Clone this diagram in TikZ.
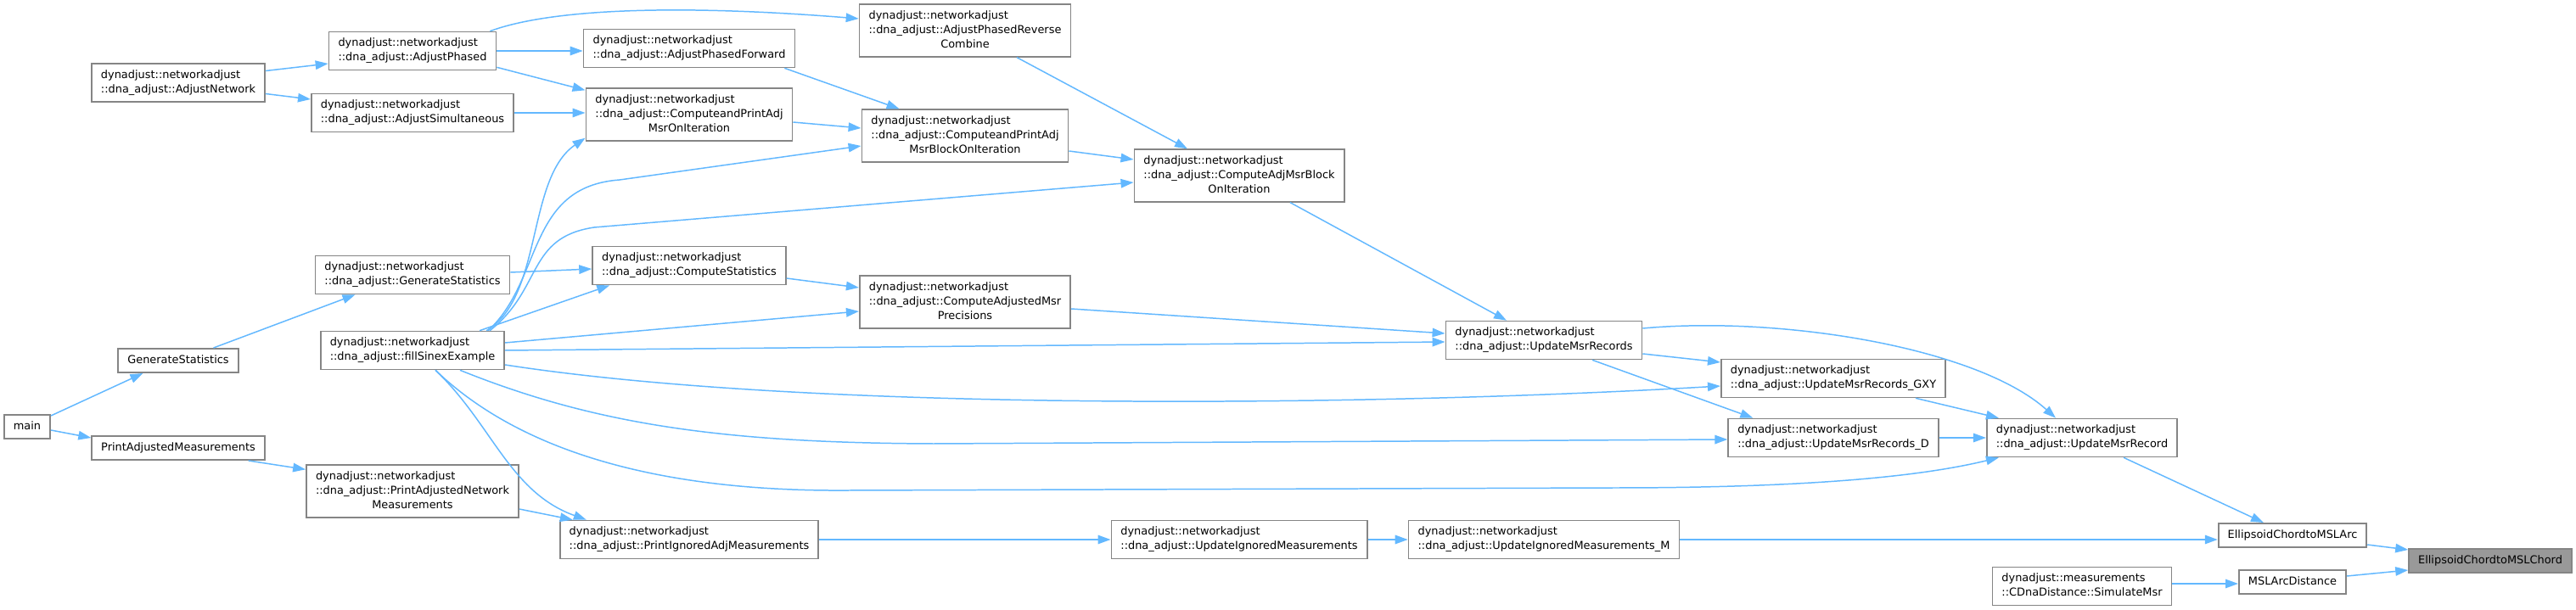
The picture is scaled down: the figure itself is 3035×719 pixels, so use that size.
\documentclass[tikz,border=0pt]{standalone}
\usepackage{fontspec}
\setmainfont{DejaVu Sans}
\usetikzlibrary{arrows.meta}
\definecolor{edgeblue}{RGB}{99,184,255}
\definecolor{boxgray}{RGB}{133,133,133}
\definecolor{hilite}{RGB}{153,153,153}
\newcommand{\fnlabel}[1]{\begin{tabular}{@{}l@{}}#1\end{tabular}}
\newcommand{\lastline}[1]{\multicolumn{1}{@{}c@{}}{#1}}

\begin{document}
\begin{tikzpicture}[x=0.02cm, y=-0.02cm,
  fn/.style={draw=boxgray, fill=white, line width=1pt, inner xsep=0.22cm, inner ysep=0.115cm,
    font=\fontsize{7.35}{9.5}\selectfont},
  hilitebox/.style={fn, fill=hilite},
  callarrow/.style={draw=edgeblue, line width=0.85pt, -{Triangle[length=0.3cm, width=0.21cm]}}]

  \useasboundingbox (0,0) rectangle (3035,719);

  % column 1
  \node[fn] (main) at (32,503) {\fnlabel{main}};
  % column 2
  \node[fn] (adjnet) at (210,97.5) {\fnlabel{dynadjust::networkadjust\\::dna\_adjust::AdjustNetwork}};
  \node[fn] (genstat) at (210,425) {\fnlabel{GenerateStatistics}};
  \node[fn] (printadj) at (210,528) {\fnlabel{PrintAdjustedMeasurements}};
  % column 3
  \node[fn] (adjphased) at (486,60) {\fnlabel{dynadjust::networkadjust\\::dna\_adjust::AdjustPhased}};
  \node[fn] (adjsim) at (486,133) {\fnlabel{dynadjust::networkadjust\\::dna\_adjust::AdjustSimultaneous}};
  \node[fn] (dnagenstat) at (486,324) {\fnlabel{dynadjust::networkadjust\\::dna\_adjust::GenerateStatistics}};
  \node[fn] (sinex) at (486,413) {\fnlabel{dynadjust::networkadjust\\::dna\_adjust::fillSinexExample}};
  \node[fn] (printnet) at (486,579) {\fnlabel{dynadjust::networkadjust\\::dna\_adjust::PrintAdjustedNetwork\\\lastline{Measurements}}};
  % column 4
  \node[fn] (phasedfwd) at (812,57) {\fnlabel{dynadjust::networkadjust\\::dna\_adjust::AdjustPhasedForward}};
  \node[fn] (cpamoi) at (812,135) {\fnlabel{dynadjust::networkadjust\\::dna\_adjust::ComputeandPrintAdj\\\lastline{MsrOnIteration}}};
  \node[fn] (compstat) at (812,313) {\fnlabel{dynadjust::networkadjust\\::dna\_adjust::ComputeStatistics}};
  \node[fn] (printign) at (812,636) {\fnlabel{dynadjust::networkadjust\\::dna\_adjust::PrintIgnoredAdjMeasurements}};
  % column 5
  \node[fn] (reverse) at (1137,36) {\fnlabel{dynadjust::networkadjust\\::dna\_adjust::AdjustPhasedReverse\\\lastline{Combine}}};
  \node[fn] (cpamboi) at (1137,160) {\fnlabel{dynadjust::networkadjust\\::dna\_adjust::ComputeandPrintAdj\\\lastline{MsrBlockOnIteration}}};
  \node[fn] (precis) at (1137,356) {\fnlabel{dynadjust::networkadjust\\::dna\_adjust::ComputeAdjustedMsr\\\lastline{Precisions}}};
  % column 6
  \node[fn] (camboi) at (1460,207) {\fnlabel{dynadjust::networkadjust\\::dna\_adjust::ComputeAdjMsrBlock\\\lastline{OnIteration}}};
  \node[fn] (updign) at (1460,636) {\fnlabel{dynadjust::networkadjust\\::dna\_adjust::UpdateIgnoredMeasurements}};
  % column 7
  \node[fn] (umrs) at (1819,401) {\fnlabel{dynadjust::networkadjust\\::dna\_adjust::UpdateMsrRecords}};
  \node[fn] (updignm) at (1819,636) {\fnlabel{dynadjust::networkadjust\\::dna\_adjust::UpdateIgnoredMeasurements\_M}};
  % column 8
  \node[fn] (gxy) at (2160,446) {\fnlabel{dynadjust::networkadjust\\::dna\_adjust::UpdateMsrRecords\_GXY}};
  \node[fn] (umrd) at (2160,516) {\fnlabel{dynadjust::networkadjust\\::dna\_adjust::UpdateMsrRecords\_D}};
  % column 9
  \node[fn] (umr) at (2453,516) {\fnlabel{dynadjust::networkadjust\\::dna\_adjust::UpdateMsrRecord}};
  \node[fn] (simmsr) at (2453,691) {\fnlabel{dynadjust::measurements\\::CDnaDistance::SimulateMsr}};
  % column 10
  \node[fn] (arc) at (2701,631) {\fnlabel{EllipsoidChordtoMSLArc}};
  \node[fn] (arcdist) at (2701,686) {\fnlabel{MSLArcDistance}};
  % column 11
  \node[hilitebox] (chord) at (2934,661) {\fnlabel{EllipsoidChordtoMSLChord}};

  % calls from the left part
  \draw[callarrow] ([shift={(0,-13)}]main.east) -- ([shift={(30,0)}]genstat.south west);
  \draw[callarrow] ([shift={(0,4)}]main.east) -- ([shift={(0,3)}]printadj.north west);
  \draw[callarrow] ([shift={(-30,0)}]genstat.north east) -- ([shift={(48,0)}]dnagenstat.south west);
  \draw[callarrow] ([shift={(-20,0)}]printadj.south east) -- ([shift={(0,6)}]printnet.north west);
  \draw[callarrow] ([shift={(0,-14)}]adjnet.east) -- ([shift={(0,15)}]adjphased.west);
  \draw[callarrow] ([shift={(0,13)}]adjnet.east) -- ([shift={(0,-16)}]adjsim.west);
  \draw[callarrow] (adjphased.east) -- (adjphased.east -| phasedfwd.west);
  \draw[callarrow] ([shift={(0,-4)}]adjphased.south east) -- ([shift={(0,3)}]cpamoi.north west);
  \draw[callarrow] ([shift={(-8,0)}]adjphased.north east) .. controls (650,10) and (800,5) .. ([shift={(0,-14)}]reverse.west);
  \draw[callarrow] (adjsim.east) -- (adjsim.east -| cpamoi.west);
  \draw[callarrow] ([shift={(0,-3)}]dnagenstat.east) -- ([shift={(0,4)}]compstat.west);

  % calls made by fillSinexExample
  \draw[callarrow] ([shift={(-22,0)}]sinex.north east) .. controls (640,350) and (620,210) .. ([shift={(0,-4)}]cpamoi.south west);
  \draw[callarrow] ([shift={(-20,0)}]sinex.north east) .. controls (640,330) and (620,220) .. (730,212) -- ([shift={(0,12)}]cpamboi.west);
  \draw[callarrow] ([shift={(-18,0)}]sinex.north east) .. controls (640,340) and (620,280) .. (700,268) -- ([shift={(0,8)}]camboi.west);
  \draw[callarrow] ([shift={(-30,0)}]sinex.north east) -- ([shift={(21,0)}]compstat.south west);
  \draw[callarrow] ([shift={(0,-9)}]sinex.east) -- ([shift={(0,11)}]precis.west);
  \draw[callarrow] (sinex.east) -- ([shift={(0,2)}]umrs.west);
  \draw[callarrow] ([shift={(0,17)}]sinex.east) .. controls (950,485) and (1600,480) .. ([shift={(0,9)}]gxy.west);
  \draw[callarrow] ([shift={(56,0)}]sinex.south) .. controls (700,500) and (850,522) .. (1100,523) -- ([shift={(0,2)}]umrd.west);
  \draw[callarrow] ([shift={(27,0)}]sinex.south) .. controls (600,520) and (750,580) .. (1000,578) -- (1900,575) .. controls (2100,575) and (2250,565) .. ([shift={(15,0)}]umr.south west);
  \draw[callarrow] ([shift={(27,0)}]sinex.south) .. controls (580,500) and (600,580) .. ([shift={(32,0)}]printign.north west);

  % middle part
  \draw[callarrow] ([shift={(0,21)}]printnet.east) -- ([shift={(16,0)}]printign.north west);
  \draw[callarrow] ([shift={(0,9)}]cpamoi.east) -- ([shift={(0,-9)}]cpamboi.west);
  \draw[callarrow] ([shift={(-13,0)}]phasedfwd.south east) -- ([shift={(45,0)}]cpamboi.north west);
  \draw[callarrow] ([shift={(61,0)}]reverse.south) -- ([shift={(-61,0)}]camboi.north);
  \draw[callarrow] ([shift={(0,18)}]cpamboi.east) -- ([shift={(0,-19)}]camboi.west);
  \draw[callarrow] ([shift={(0,15)}]compstat.east) -- ([shift={(0,-17)}]precis.west);
  \draw[callarrow] ([shift={(0,8)}]precis.east) -- ([shift={(0,-8)}]umrs.west);
  \draw[callarrow] ([shift={(60,0)}]camboi.south) -- ([shift={(-44,0)}]umrs.north);
  \draw[callarrow] (printign.east) -- (updign.west);
  \draw[callarrow] (updign.east) -- (updignm.west);

  % right part
  \draw[callarrow] (updignm.east) -- (updignm.east -| arc.west);
  \draw[callarrow] ([shift={(0,16)}]umrs.east) -- ([shift={(0,-19)}]gxy.west);
  \draw[callarrow] ([shift={(57,0)}]umrs.south) -- ([shift={(30,0)}]umrd.north west);
  \draw[callarrow] ([shift={(0,-14)}]umrs.east) .. controls (2100,372) and (2330,410) .. ([shift={(-31,0)}]umr.north);
  \draw[callarrow] ([shift={(97,0)}]gxy.south) -- ([shift={(15,0)}]umr.north west);
  \draw[callarrow] (umrd.east) -- (umr.west);
  \draw[callarrow] ([shift={(49,0)}]umr.south) -- ([shift={(-34,0)}]arc.north);
  \draw[callarrow] ([shift={(0,11)}]arc.east) -- ([shift={(0,-13)}]chord.west);
  \draw[callarrow] ([shift={(0,-7)}]arcdist.east) -- ([shift={(0,11)}]chord.west);
  \draw[callarrow] ([shift={(0,-3)}]simmsr.east) -- ([shift={(0,-3)}]simmsr.east -| arcdist.west);

\end{tikzpicture}
\end{document}
